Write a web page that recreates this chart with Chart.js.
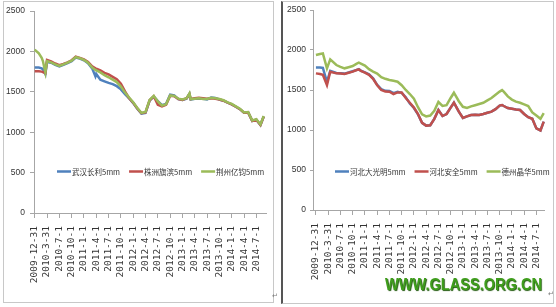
<!DOCTYPE html>
<html><head><meta charset="utf-8">
<script src="https://cdn.jsdelivr.net/npm/chart.js@4.4.1/dist/chart.umd.min.js"></script>
<style>
html,body{margin:0;padding:0;background:#fff;width:556px;height:307px;overflow:hidden;position:relative}
.frame{position:absolute;box-sizing:border-box;border:1px solid #c8c8c8}
canvas{position:absolute;top:0}
#wm{position:absolute;left:385px;top:277px;font:bold 16px "Liberation Sans",sans-serif;line-height:16px;color:#3f9e1c;text-shadow:1px 1px 1px #245c10;white-space:nowrap;transform:scaleX(0.91);transform-origin:left top}
.pm{position:absolute;font:7px "DejaVu Sans",sans-serif;color:#777}
</style></head><body>
<div class="frame" style="left:3px;top:1px;width:271px;height:302px"></div>
<div class="frame" style="left:281px;top:1px;width:273px;height:303px;border-left:2px solid #555"></div>
<canvas id="cL" width="276" height="307" style="left:0"></canvas>
<canvas id="cR" width="278" height="307" style="left:278px"></canvas>
<div id="wm">WWW.GLASS.ORG.CN</div>
<span class="pm" style="left:272px;top:292px">↵</span>
<span class="pm" style="left:548px;top:290px">↵</span>
<script>
// x-axis tick labels (quarterly, every 3 months from 2009-12-31)
const xTickLabels = ['2009-12-31','2010-3-31','2010-7-1','2010-10-1','2011-1-1','2011-4-1','2011-7-1','2011-10-1','2012-1-1','2012-4-1','2012-7-1','2012-10-1','2013-1-1','2013-4-1','2013-7-1','2013-10-1','2014-1-1','2014-4-1','2014-7-1'];
const yTicks = [0,500,1000,1500,2000,2500];

// Left chart
const namesL = ['武汉长利5mm','株洲旗滨5mm','荆州亿钧5mm'];
const monthsL = [0,1,1.7,2,2.6,3,4,5,6,7,8,9,10,11,12,13,14,14.8,15,16,17,18,19,20,21,22,23,24,25,26,27,28,29,30,31,32,33,34,35,36,37,37.7,38,39,40,41,42,43,44,45,46,47,48,49,50,51,52,53,54,55,55.8];
const wuhanChangli = [1800,1800,1790,1780,1720,1870,1860,1835,1815,1835,1855,1880,1925,1910,1890,1855,1790,1690,1720,1650,1630,1610,1595,1570,1530,1470,1420,1360,1290,1230,1240,1390,1440,1385,1335,1350,1465,1455,1410,1400,1415,1475,1405,1415,1415,1415,1405,1430,1425,1405,1390,1365,1345,1315,1285,1240,1245,1140,1155,1090,1195];
const zhuzhouQibin = [1755,1755,1750,1745,1730,1895,1875,1850,1830,1845,1865,1890,1935,1920,1900,1870,1815,1790,1785,1765,1735,1715,1685,1655,1600,1505,1420,1365,1295,1235,1245,1395,1445,1340,1320,1340,1450,1445,1410,1400,1420,1470,1410,1420,1425,1420,1415,1420,1415,1405,1390,1365,1345,1315,1285,1240,1245,1140,1155,1090,1195];
const jingzhouYijun = [2020,1975,1920,1880,1740,1880,1865,1840,1820,1840,1860,1885,1930,1915,1895,1860,1800,1770,1765,1740,1705,1680,1650,1620,1565,1490,1430,1370,1300,1240,1250,1400,1450,1380,1330,1345,1455,1450,1415,1405,1420,1480,1410,1415,1420,1410,1410,1425,1420,1410,1395,1370,1350,1320,1290,1245,1250,1145,1160,1095,1200];

// Right chart
const namesR = ['河北大光明5mm','河北安全5mm','德州晶华5mm'];
const monthsR = [0,1,1.7,2.7,3.5,5,6,7,8,9,10,10.5,11,12,13,14,15,16,17,18,19,20,21,22,23,24,25,26,27,28,29,30,31,32,33,33.8,35,36,37,38,39,40,41,42,43,44,45,45.6,46,47,48,49,50,51,52,53,54,55,55.8];
const hebeiDaguangming = [1780,1780,1775,1600,1740,1712,1708,1705,1718,1735,1752,1760,1742,1720,1695,1645,1565,1510,1490,1488,1460,1478,1465,1410,1330,1275,1195,1090,1055,1060,1140,1250,1175,1200,1280,1341,1230,1150,1170,1187,1190,1187,1200,1215,1230,1260,1305,1312,1300,1275,1265,1255,1250,1200,1160,1140,1020,995,1104];
const hebeiAnquan = [1708,1700,1690,1562,1729,1708,1705,1700,1715,1730,1750,1758,1740,1716,1690,1640,1560,1500,1480,1479,1450,1470,1470,1400,1340,1280,1200,1090,1055,1060,1140,1250,1175,1200,1280,1341,1230,1150,1170,1187,1190,1187,1200,1215,1230,1260,1305,1312,1300,1275,1265,1255,1250,1200,1160,1140,1020,995,1104];
const dezhouJinghua = [1937,1950,1958,1771,1883,1812,1790,1771,1785,1800,1830,1841,1830,1805,1760,1730,1705,1660,1640,1625,1615,1604,1560,1500,1450,1390,1285,1195,1170,1180,1240,1350,1300,1310,1400,1466,1360,1290,1275,1295,1310,1325,1340,1370,1400,1440,1480,1500,1480,1420,1380,1355,1340,1320,1300,1220,1180,1140,1210];

const colors = ['#4F81BD','#C0504D','#9BBB59'];

const inLegend = {
  id: 'inlegend',
  afterDatasetsDraw(chart, args, opts) {
    const ctx = chart.ctx;
    const y = Math.round(chart.scales.y.getPixelForValue(opts.value)) + 0.5;
    let x = chart.chartArea.left + opts.offset;
    ctx.save();
    ctx.font = '7.5px "Noto Sans CJK SC"';
    ctx.textBaseline = 'middle';
    chart.data.datasets.forEach(ds => {
      ctx.strokeStyle = ds.borderColor; ctx.lineWidth = 2.5;
      ctx.beginPath(); ctx.moveTo(x, y); ctx.lineTo(x + 14, y); ctx.stroke();
      x += 15;
      ctx.fillStyle = '#333';
      ctx.fillText(ds.label, x, y + 0.5);
      x += ctx.measureText(ds.label).width + 9;
    });
    ctx.restore();
  }
};

function makeChart(id, months, names, series, cfg) {
  const datasets = series.map((vals, i) => ({
    label: names[i],
    data: months.map((m, k) => ({x: m, y: vals[k]})),
    borderColor: colors[i],
    backgroundColor: colors[i],
    borderWidth: 2.5,
    pointRadius: 0,
    tension: 0,
    order: 2 - i
  }));
  return new Chart(document.getElementById(id), {
    type: 'line',
    data: {datasets},
    plugins: [inLegend],
    options: {
      responsive: false,
      animation: false,
      layout: {padding: {left: 0, top: cfg.top, right: cfg.right, bottom: 0}},
      plugins: {
        legend: {display: false},
        tooltip: {enabled: false},
        inlegend: {value: cfg.legendValue, offset: cfg.legendOffset}
      },
      scales: {
        x: {
          type: 'linear', min: cfg.xmin, max: cfg.xmax,
          afterBuildTicks: s => { s.ticks = xTickLabels.map((_, i) => ({value: i * 3})); },
          afterFit: s => { s.height = cfg.xh; },
          border: {color: '#a6a6a6', width: 1},
          grid: {drawOnChartArea: false, drawTicks: true, tickLength: 5, tickColor: '#a6a6a6'},
          ticks: {
            autoSkip: false, minRotation: 90, maxRotation: 90, padding: 8,
            color: '#333', font: {family: '"DejaVu Sans Mono"', size: 9.5},
            callback: (v, i) => xTickLabels[i]
          }
        },
        y: {
          min: 0, max: 2500,
          afterBuildTicks: s => { s.ticks = yTicks.map(v => ({value: v})); },
          afterFit: s => { s.width = cfg.yw; },
          border: {color: '#a6a6a6', width: 1},
          grid: {drawOnChartArea: false, drawTicks: true, tickLength: cfg.ytl, tickColor: '#a6a6a6'},
          ticks: {
            padding: cfg.ypad, color: '#333',
            font: {family: '"Liberation Sans", sans-serif', size: 8.5},
            callback: v => String(v)
          }
        }
      }
    }
  });
}

makeChart('cL', monthsL, namesL, [wuhanChangli, zhuzhouQibin, jingzhouYijun],
  {top: 11, right: 6, xh: 94, yw: 34, ytl: 4, ypad: 5, xmin: -0.17, xmax: 56.4, legendValue: 520, legendOffset: 23});
makeChart('cR', monthsR, namesR, [hebeiDaguangming, hebeiAnquan, dezhouJinghua],
  {top: 10, right: 6, xh: 97, yw: 35, ytl: 3, ypad: 4, xmin: -0.72, xmax: 56.1, legendValue: 490, legendOffset: 22});
</script>
</body></html>
